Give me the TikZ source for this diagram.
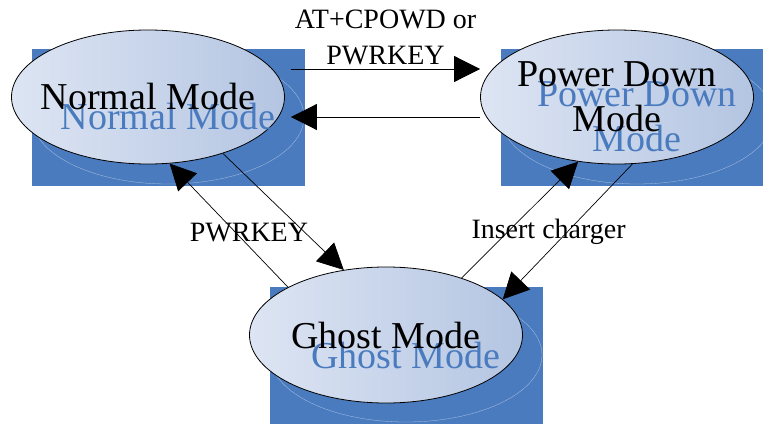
\documentclass[tikz,border=0pt]{standalone}
\usepackage{fontspec}
\setmainfont{Liberation Serif}
\usepackage{tikz}
\usetikzlibrary{shapes.geometric,arrows.meta}

\definecolor{modeblue}{HTML}{4A7BBF}
\definecolor{elllight}{HTML}{DDE5F3}
\definecolor{elldark}{HTML}{B4C5E2}

\begin{document}
\begin{tikzpicture}[
    x=1pt, y=-1pt,
    mode/.style={ellipse, draw, line width=0.8pt, inner sep=0pt, minimum width=273pt, minimum height=134pt, left color=elllight, right color=elldark},
    shadowbox/.style={rectangle, fill=modeblue, inner sep=0pt, minimum width=273pt, minimum height=137pt,
        path picture={\draw[white!55!modeblue, line width=0.3pt] (path picture bounding box.center) ellipse (136pt and 67pt);}},
    modetext/.style={font=\fontsize{38}{45}\selectfont, align=center, inner sep=0pt},
    shadowtext/.style={modetext, text=modeblue, xshift=20pt, yshift=-20pt},
    lbl/.style={font=\fontsize{28}{36}\selectfont, align=center, inner sep=0pt},
    arrow/.style={-{Triangle[length=26pt, width=26pt]}, line width=0.7pt}
]
\useasboundingbox (0,0) rectangle (763,423);

% Shadows
\node[shadowbox] (normalbox) at (168,117) {};
\node[shadowbox] (powerbox) at (637,117) {};
\node[shadowbox] (ghostbox) at (406,355) {};

% Modes
\node[mode, label={[shadowtext]center:Normal Mode}, label={[modetext]center:Normal Mode}] (normal) at (148,97) {};
\node[mode, label={[shadowtext]center:{Power Down\\Mode}}, label={[modetext]center:{Power Down\\Mode}}] (power) at (617,97) {};
\node[mode, minimum height=136pt, label={[shadowtext]center:Ghost Mode}, label={[modetext]center:Ghost Mode}] (ghost) at (386,335) {};

% Transitions
\draw[arrow] ([xshift=6pt,yshift=28pt]normal.east) -- node[lbl, above=4pt] {AT+CPOWD or\\PWRKEY} ([yshift=28pt]power.west);
\draw[arrow] ([yshift=-20pt]power.west) -- ([xshift=6pt,yshift=-20pt]normal.east);
\draw[arrow] (normal.-37) -- (ghost.123);
\draw[arrow] (ghost.154) -- node[lbl, pos=0.44, xshift=13pt] {PWRKEY} (normal.-72);
\draw[arrow] (ghost.37) -- (power.-121);
\draw[arrow] (power.-77) -- node[lbl, pos=0.5, xshift=-19pt] {Insert charger} (ghost.17);

\end{tikzpicture}
\end{document}
